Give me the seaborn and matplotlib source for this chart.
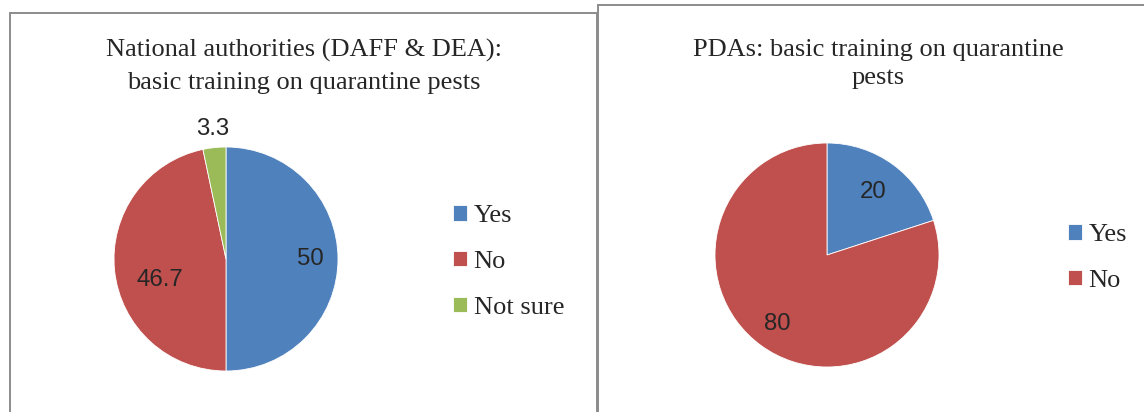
import numpy as np
import seaborn as sns
import matplotlib
matplotlib.use('Agg')
from matplotlib import pyplot as plt
from matplotlib.patches import Rectangle

# data
left_title = ['National authorities (DAFF & DEA):', 'basic training on quarantine pests']
left_labels = ['Yes', 'No', 'Not sure']
left_values = [50, 46.7, 3.3]
right_title = ['PDAs: basic training on quarantine', 'pests']
right_labels = ['Yes', 'No']
right_values = [20, 80]

colors = ['#4F81BD', '#C0504D', '#9BBB59']

sns.set_style('white')
plt.rcParams['font.family'] = ['Liberation Serif', 'DejaVu Serif']

W, H = 1144, 412
fig = plt.figure(figsize=(W / 100, H / 100), dpi=100)


def fx(x):
    return x / W


def fy(y):
    return (H - y) / H


# panel borders
fig.add_artist(Rectangle((fx(10), fy(430)), fx(587), fy(13) - fy(430), transform=fig.transFigure,
                         fill=False, edgecolor='#8c8c8c', linewidth=1.4))
fig.add_artist(Rectangle((fx(598), fy(430)), fx(600), fy(5) - fy(430), transform=fig.transFigure,
                         fill=False, edgecolor='#8c8c8c', linewidth=1.4))


def draw_pie(cx, cy, r, values, labels, label_pos, legend_xy, title, title_x, title_y):
    ax = fig.add_axes([fx(cx - r), fy(cy + r), 2 * r / W, 2 * r / H])
    wedges, _ = ax.pie(values, colors=colors[:len(values)], startangle=90, counterclock=False,
                       radius=1, wedgeprops=dict(edgecolor='white', linewidth=0.6))
    ax.set_xlim(-1.0, 1.0)
    ax.set_ylim(-1.0, 1.0)
    ax.set_aspect('equal')
    ax.axis('off')
    for w, v, (dist, shift) in zip(wedges, values, label_pos):
        ang = np.deg2rad((w.theta1 + w.theta2) / 2 + shift)
        ax.text(dist * np.cos(ang), dist * np.sin(ang), f'{v:g}', ha='center', va='center',
                fontsize=17.3, family=['Liberation Sans', 'DejaVu Sans'], clip_on=False)
    fig.legend(wedges, labels, loc='center left', bbox_to_anchor=(fx(legend_xy[0]), fy(legend_xy[1])),
               frameon=False, fontsize=19, handlelength=0.53, handleheight=0.53,
               handletextpad=0.25, labelspacing=0.9, borderpad=0, borderaxespad=0)
    for line, ty in zip(title, title_y):
        fig.text(fx(title_x), fy(ty), line, ha='center', va='baseline', fontsize=19)


draw_pie(226, 259, 112, left_values, left_labels,
         [(0.75, 0), (0.62, 12), (1.17, 0)], (453, 262),
         left_title, 304, [57, 89])
draw_pie(827, 255, 112, right_values, right_labels,
         [(0.70, 0), (0.76, 0)], (1068, 258),
         right_title, 878, [56, 84])

plt.savefig('out.png', dpi=100)
